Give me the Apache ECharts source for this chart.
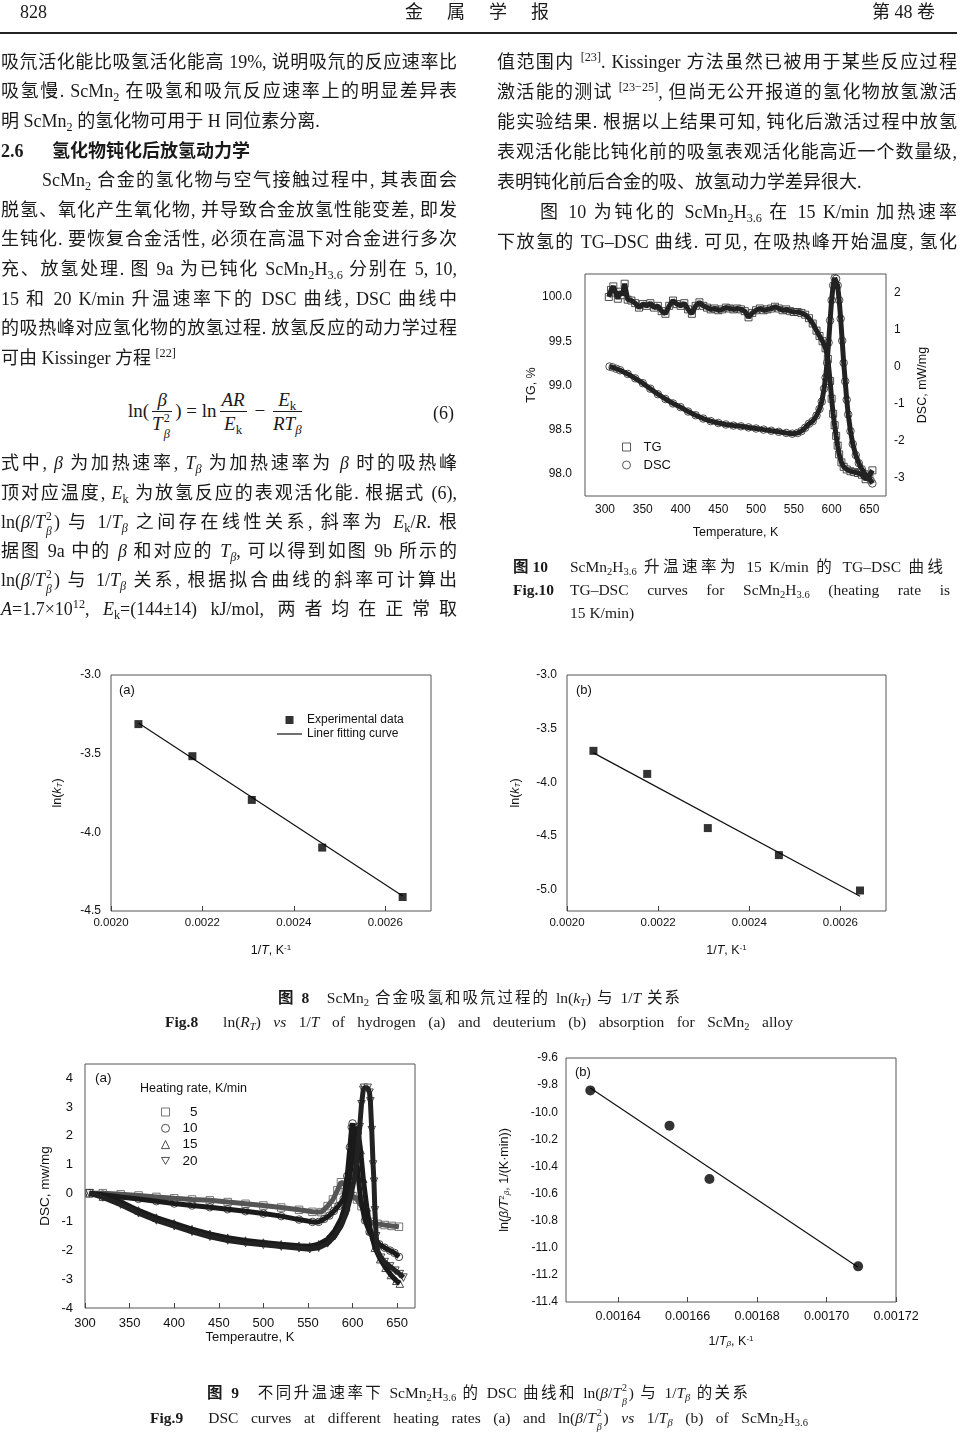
<!DOCTYPE html>
<html><head><meta charset="utf-8">
<script src="https://cdn.jsdelivr.net/npm/echarts@6.0.0/dist/echarts.min.js"></script>
<style>
html,body{margin:0;padding:0;background:#fff;}
#page{position:relative;width:960px;height:1432px;overflow:hidden;font-family:"Liberation Serif","Noto Sans CJK SC",serif;font-size:18px;color:#1a1a1a;}
.ln{position:absolute;height:24px;line-height:24px;white-space:nowrap;transform-origin:left center;}
.ln.j{text-align:justify;text-align-last:justify;white-space:normal;}
.cap{font-size:15.5px;}
sub{font-size:0.68em;vertical-align:-0.3em;line-height:0;}
sup{font-size:0.68em;vertical-align:0.55em;line-height:0;}
.ss{display:inline-block;position:relative;width:0.5em;height:0;}
.ss .a{position:absolute;left:1px;bottom:0.45em;font-size:0.65em;line-height:1;}
.ss .b{position:absolute;left:1px;top:-0.15em;font-size:0.65em;line-height:1;}
b{font-family:"Liberation Serif","Noto Sans CJK SC",serif;font-weight:bold;}
#rule{position:absolute;left:0;top:32px;width:957px;height:1.6px;background:#222;}
#formula{position:absolute;left:128px;top:386px;height:50px;display:flex;align-items:center;font-size:19px;white-space:nowrap;}
.frac{display:inline-flex;flex-direction:column;text-align:center;margin:0 3px;}
.frac .nu{border-bottom:1px solid #1a1a1a;padding:0 2px;line-height:23px;}
.frac .de{line-height:23px;}
#chart{position:absolute;left:0;top:0;width:960px;height:1432px;}
</style></head>
<body><div id="page">
<div id="rule"></div>
<div id="formula"><span>ln(</span><span class="frac"><span class="nu"><i>β</i></span><span class="de"><i>T</i><span class="ss"><span class="a">2</span><span class="b"><i>β</i></span></span></span></span><span>)&nbsp;=&nbsp;ln</span><span class="frac"><span class="nu"><i>AR</i></span><span class="de"><i>E</i><sub>k</sub></span></span><span>&nbsp;−&nbsp;</span><span class="frac"><span class="nu"><i>E</i><sub>k</sub></span><span class="de"><i>RT</i><sub><i>β</i></sub></span></span></div>
<div id="chart"></div>
</div>
<script>
// ---------------- DATA ----------------
// Fig.10 TG-DSC (15 K/min)
const tgT = [305,308,311,314,317,320,323,326,330,335,340,345,350,355,360,365,370,375,380,385,390,395,400,405,410,415,420,425,430,435,440,445,450,455,460,465,470,475,480,485,490,495,500,505,510,515,520,525,530,535,540,545,550,555,560,565,570,575,580,584,588,592,595,598,600,602,604,606,608,610,613,616,620,625,630,635,640,645,650,654];
const tgV = [100.00,100.08,100.12,100.05,99.98,100.06,100.02,100.15,99.97,
  99.96,99.93,99.88,99.92,99.9,99.93,99.88,99.9,99.84,99.81,
  99.9,99.96,99.92,99.9,99.93,99.86,99.81,99.9,99.94,99.9,
  99.88,99.86,99.87,99.85,99.86,99.88,99.87,99.86,99.87,99.86,
  99.84,99.77,99.82,99.85,99.87,99.85,99.86,99.87,99.89,99.87,
  99.85,99.86,99.84,99.83,99.83,99.82,99.8,99.76,99.7,99.62,
  99.56,99.5,99.42,99.3,99.05,98.85,98.68,98.55,98.43,98.32,98.22,98.13,98.08,98.05,98.03,98.02,98.01,97.99,97.94,97.98,98.04];
const dscT = [306,310,315,320,330,340,350,360,370,380,390,400,410,420,430,440,450,460,470,480,490,500,510,520,530,540,548,555,560,565,570,575,580,584,587,590,592,594,596,598,600,602,604,606,608,610,612,614,616,618,620,622,625,628,632,636,640,644,648,652,654];
const dscV = [0.0,-0.02,-0.06,-0.1,-0.2,-0.32,-0.45,-0.6,-0.75,-0.88,-1.0,-1.1,-1.22,-1.32,-1.41,-1.48,-1.53,-1.57,-1.6,-1.62,-1.65,-1.68,-1.71,-1.74,-1.77,-1.8,-1.82,-1.8,-1.75,-1.66,-1.55,-1.48,-1.33,-1.15,-0.95,-0.6,-0.3,0.1,0.65,1.25,1.8,2.2,2.4,2.38,2.2,1.8,1.3,0.7,0.1,-0.4,-0.9,-1.3,-1.75,-2.1,-2.4,-2.62,-2.78,-2.9,-3.0,-3.1,-3.17];
const f10XTicks = [300,350,400,450,500,550,600,650];
const f10TGTicks = [98.0,98.5,99.0,99.5,100.0];
const f10DSCTicks = [-3,-2,-1,0,1,2];

// Fig.8 ln(kT) vs 1/T
const f8X = [0.00206,0.002178,0.002308,0.002462,0.002638];
const f8aY = [-3.312,-3.516,-3.794,-4.097,-4.411];
const f8aFitX = [0.00206,0.002638];
const f8aFitY = [-3.305,-4.405];
const f8bX = [0.002058,0.002176,0.002309,0.002465,0.002643];
const f8bY = [-3.707,-3.922,-4.427,-4.679,-5.009];
const f8bFitX = [0.002058,0.002643];
const f8bFitY = [-3.726,-5.062];
const f8XTicks = [0.0020,0.0022,0.0024,0.0026];
const f8aYTicks = [-4.5,-4.0,-3.5,-3.0];
const f8bYTicks = [-5.0,-4.5,-4.0,-3.5,-3.0];

// Fig.9a DSC curves at different heating rates
const f9aT5 = [305,320,340,360,380,400,420,440,460,480,500,520,540,555,565,572,578,583,587,591,596,600,605,610,615,620,628,636,644,652];
const f9aV5 = [0,0,-0.04,-0.08,-0.13,-0.18,-0.22,-0.25,-0.31,-0.37,-0.43,-0.5,-0.58,-0.65,-0.66,-0.45,-0.22,0.1,0.38,0.3,0.05,-0.1,-0.22,-0.45,-0.75,-1.0,-1.07,-1.11,-1.14,-1.17];
const f9aT10 = [305,320,340,360,380,400,420,440,460,480,500,520,540,555,562,568,574,579,584,590,594,597,599,600,602,605,609,614,619,624,630,636,642,647,652];
const f9aV10 = [0,-0.05,-0.13,-0.2,-0.28,-0.36,-0.43,-0.49,-0.56,-0.63,-0.71,-0.8,-0.92,-1.0,-1.0,-0.9,-0.78,-0.62,-0.45,-0.2,0.6,1.6,2.3,2.43,2.14,1.0,-0.2,-0.95,-1.35,-1.58,-1.78,-1.9,-2.0,-2.08,-2.22];
const f9aT15 = [305,320,340,360,380,400,420,440,460,480,500,520,540,552,562,572,580,587,593,597,601,604,606,609,612,616,620,625,631,637,643,649,653];
const f9aV15 = [0,-0.12,-0.3,-0.6,-0.85,-1.05,-1.25,-1.42,-1.55,-1.65,-1.72,-1.78,-1.83,-1.85,-1.78,-1.6,-1.3,-0.9,-0.3,0.6,1.6,2.3,2.2,1.5,0.5,-0.5,-1.3,-1.9,-2.3,-2.6,-2.85,-3.05,-3.15];
const f9aT20 = [305,320,340,360,380,400,420,440,460,480,500,520,540,552,562,572,580,587,593,598,602,605,608,610,612,613,617,619,620,621.5,623,624,625,626.5,628,632,636,642,648,653,657];
const f9aV20 = [0,-0.15,-0.4,-0.7,-0.95,-1.15,-1.35,-1.52,-1.65,-1.74,-1.8,-1.86,-1.92,-1.95,-1.9,-1.75,-1.5,-1.15,-0.7,-0.1,0.5,1.3,2.3,3.1,3.6,3.67,3.67,3.5,3.2,2.2,1.0,0.4,-0.6,-1.5,-2.0,-2.25,-2.4,-2.55,-2.7,-2.82,-2.94];
const f9aXTicks = [300,350,400,450,500,550,600,650];
const f9aYTicks = [-4,-3,-2,-1,0,1,2,3,4];

// Fig.9b Kissinger plot
const f9bX = [0.001632,0.0016548,0.0016663,0.0017091];
const f9bY = [-9.839,-10.099,-10.493,-11.137];
const f9bFitX = [0.001632,0.001709];
const f9bFitY = [-9.821,-11.142];
const f9bXTicks = [0.00164,0.00166,0.00168,0.00170,0.00172];
const f9bYTicks = [-11.4,-11.2,-11.0,-10.8,-10.6,-10.4,-10.2,-10.0,-9.8,-9.6];

// ---------------- TEXT ----------------
const Tb = '<i>T</i><sub><i>β</i></sub>';
const T2b = '<i>T</i><span class="ss"><span class="a">2</span><span class="b"><i>β</i></span></span>';
const lines = [
 // [left, centerY, width, justify, html, extraClass]
 [20, 12, 0, 0, '828', ''],
 [405, 12, 0, 0, '<span style="letter-spacing:24px">金属学报</span>', ''],
 [872, 12, 0, 0, '第 48 卷', ''],
 [1, 61.7, 456, 1, '吸氘活化能比吸氢活化能高 19%, 说明吸氘的反应速率比', ''],
 [1, 91.3, 456, 1, '吸氢慢. ScMn<sub>2</sub> 在吸氢和吸氘反应速率上的明显差异表', ''],
 [1, 120.9, 0, 0, '明 ScMn<sub>2</sub> 的氢化物可用于 H 同位素分离.', ''],
 [1, 150.5, 0, 0, '<b>2.6</b>', ''],
 [52, 150.5, 0, 0, '<b>氢化物钝化后放氢动力学</b>', ''],
 [42, 180.1, 415, 1, 'ScMn<sub>2</sub> 合金的氢化物与空气接触过程中, 其表面会', ''],
 [1, 209.7, 456, 1, '脱氢、氧化产生氧化物, 并导致合金放氢性能变差, 即发', ''],
 [1, 239.3, 456, 1, '生钝化. 要恢复合金活性, 必须在高温下对合金进行多次', ''],
 [1, 268.9, 456, 1, '充、放氢处理. 图 9a 为已钝化 ScMn<sub>2</sub>H<sub>3.6</sub> 分别在 5, 10,', ''],
 [1, 298.5, 456, 1, '15 和 20 K/min 升温速率下的 DSC 曲线, DSC 曲线中', ''],
 [1, 328.1, 456, 1, '的吸热峰对应氢化物的放氢过程. 放氢反应的动力学过程', ''],
 [1, 357.7, 0, 0, '可由 Kissinger 方程 <sup>[22]</sup>', ''],
 [433, 413, 0, 0, '(6)', ''],
 [1, 463.3, 456, 1, '式中, <i>β</i> 为加热速率, '+Tb+' 为加热速率为 <i>β</i> 时的吸热峰', ''],
 [1, 492.7, 456, 1, '顶对应温度, <i>E</i><sub>k</sub> 为放氢反应的表观活化能. 根据式 (6),', ''],
 [1, 521.7, 456, 1, 'ln(<i>β</i>/'+T2b+') 与 1/'+Tb+' 之间存在线性关系, 斜率为 <i>E</i><sub>k</sub>/<i>R</i>. 根', ''],
 [1, 550.7, 456, 1, '据图 9a 中的 <i>β</i> 和对应的 '+Tb+', 可以得到如图 9b 所示的', ''],
 [1, 580, 456, 1, 'ln(<i>β</i>/'+T2b+') 与 1/'+Tb+' 关系, 根据拟合曲线的斜率可计算出', ''],
 [1, 609.3, 456, 1, '<i>A</i>=1.7×10<sup>12</sup>, <i>E</i><sub>k</sub>=(144±14) kJ/mol, 两者均在正常取', ''],
 [497, 61.7, 460, 1, '值范围内 <sup>[23]</sup>. Kissinger 方法虽然已被用于某些反应过程', ''],
 [497, 91.7, 460, 1, '激活能的测试 <sup>[23−25]</sup>, 但尚无公开报道的氢化物放氢激活', ''],
 [497, 121.7, 460, 1, '能实验结果. 根据以上结果可知, 钝化后激活过程中放氢', ''],
 [497, 151.7, 460, 1, '表观活化能比钝化前的吸氢表观活化能高近一个数量级,', ''],
 [497, 181.7, 0, 0, '表明钝化前后合金的吸、放氢动力学差异很大.', ''],
 [540, 211.7, 417, 1, '图 10 为钝化的 ScMn<sub>2</sub>H<sub>3.6</sub> 在 15 K/min 加热速率', ''],
 [497, 241.7, 460, 1, '下放氢的 TG–DSC 曲线. 可见, 在吸热峰开始温度, 氢化', ''],
 [513, 566.7, 0, 0, '<b>图 10</b>', 'cap'],
 [570, 566.7, 373, 1, 'ScMn<sub>2</sub>H<sub>3.6</sub> 升温速率为 15 K/min 的 TG–DSC 曲线', 'cap'],
 [513, 590, 0, 0, '<b>Fig.10</b>', 'cap'],
 [570, 590, 380, 1, 'TG–DSC curves for ScMn<sub>2</sub>H<sub>3.6</sub> (heating rate is', 'cap'],
 [570, 613.3, 0, 0, '15 K/min)', 'cap'],
 [278, 998, 402, 1, '<b>图 8</b>&nbsp;&nbsp; ScMn<sub>2</sub> 合金吸氢和吸氘过程的 ln(<i>k</i><sub><i>T</i></sub>) 与 1/<i>T</i> 关系', 'cap'],
 [165, 1022, 628, 1, '<b>Fig.8</b>&nbsp; ln(<i>R</i><sub><i>T</i></sub>) <i>vs</i> 1/<i>T</i> of hydrogen (a) and deuterium (b) absorption for ScMn<sub>2</sub> alloy', 'cap'],
 [207, 1393, 541, 1, '<b>图 9</b>&nbsp;&nbsp; 不同升温速率下 ScMn<sub>2</sub>H<sub>3.6</sub> 的 DSC 曲线和 ln(<i>β</i>/'+T2b+') 与 1/'+Tb+' 的关系', 'cap'],
 [150, 1418, 658, 1, '<b>Fig.9</b>&nbsp; DSC curves at different heating rates (a) and ln(<i>β</i>/'+T2b+') <i>vs</i> 1/'+Tb+' (b) of ScMn<sub>2</sub>H<sub>3.6</sub>', 'cap']
];
const page = document.getElementById('page');
lines.forEach(([x, cy, w, j, html, cls]) => {
  const d = document.createElement('div');
  d.className = 'ln' + (cls ? ' ' + cls : '');
  d.style.left = x + 'px';
  d.style.top = (cy - 12) + 'px';
  d.innerHTML = html;
  page.appendChild(d);
  if (w) {
    const nat = d.scrollWidth;
    if (nat > w) {
      d.style.transform = 'scaleX(' + (w / nat) + ')';
    } else if (j) {
      d.style.width = w + 'px';
      d.classList.add('j');
    }
  }
});

// ---------------- CHART ----------------
const F = '"Liberation Sans", Arial, sans-serif';
const pairs = (xs, ys) => xs.map((x, i) => [x, ys[i]]);
const rich = {
  n: {fontFamily: F, fontSize: 12.5, color: '#111'},
  i: {fontFamily: F, fontSize: 12.5, fontStyle: 'italic', color: '#111'},
  s: {fontFamily: F, fontSize: 8, fontStyle: 'italic', color: '#111', verticalAlign: 'bottom', lineHeight: 8},
  p: {fontFamily: F, fontSize: 8, color: '#111', verticalAlign: 'top', lineHeight: 8}
};
function ax(o) {
  return {
    type: 'value', gridIndex: o.g, min: o.min, max: o.max, position: o.pos,
    axisLine: {show: false, onZero: false}, splitLine: {show: false},
    axisTick: {show: !!o.tick, inside: true, length: 5, customValues: o.ticks, lineStyle: {color: '#444'}},
    axisLabel: {customValues: o.ticks, formatter: o.fmt, margin: o.margin, fontSize: o.fs || 12,
      color: '#111', fontFamily: F, showMinLabel: true, showMaxLabel: true},
    name: o.name, nameLocation: 'middle', nameGap: o.gap, nameRotate: o.rot || 0,
    nameTextStyle: {fontFamily: F, fontSize: o.nfs || 12.5, color: '#111', rich: rich}
  };
}
const gridBase = {show: true, borderColor: '#555', borderWidth: 1, backgroundColor: 'transparent', containLabel: false};
const hollow = (c) => ({color: '#fff', borderColor: c, borderWidth: 1});
const downTri = 'path://M0,0 L10,0 L5,8.66 Z';

const option = {
  animation: false,
  backgroundColor: 'transparent',
  textStyle: {fontFamily: F},
  grid: [
    Object.assign({left: 585, top: 274, width: 301, height: 222}, gridBase),
    Object.assign({left: 111, top: 675, width: 320, height: 236}, gridBase),
    Object.assign({left: 567, top: 675, width: 319, height: 236}, gridBase),
    Object.assign({left: 85, top: 1064, width: 330, height: 244}, gridBase),
    Object.assign({left: 566, top: 1058, width: 330, height: 244}, gridBase)
  ],
  xAxis: [
    ax({g: 0, min: 273.5, max: 672, pos: 'bottom', ticks: f10XTicks, fmt: v => String(v), margin: 8, fs: 12, name: 'Temperature, K', gap: 30, nfs: 12.5}),
    ax({g: 1, min: 0.0020, max: 0.0027, pos: 'bottom', ticks: f8XTicks, fmt: v => v.toFixed(4), margin: 6, fs: 11.5, tick: true,
        name: '{n|1/}{i|T}{n|, K}{p|-1}', gap: 33}),
    ax({g: 2, min: 0.0020, max: 0.0027, pos: 'bottom', ticks: f8XTicks, fmt: v => v.toFixed(4), margin: 6, fs: 11.5, tick: true,
        name: '{n|1/}{i|T}{n|, K}{p|-1}', gap: 33}),
    ax({g: 3, min: 300, max: 670, pos: 'bottom', ticks: f9aXTicks, fmt: v => String(v), margin: 9, fs: 13, tick: true,
        name: 'Temperautre, K', gap: 23, nfs: 13}),
    ax({g: 4, min: 0.001625, max: 0.00172, pos: 'bottom', ticks: f9bXTicks, fmt: v => v.toFixed(5), margin: 8, fs: 12.5, tick: true,
        name: '{n|1/}{i|T}{s|β}{n|, K}{p|-1}', gap: 33})
  ],
  yAxis: [
    ax({g: 0, min: 97.75, max: 100.26, pos: 'left', ticks: f10TGTicks, fmt: v => v.toFixed(1), margin: 13, fs: 12, name: 'TG, %', gap: 45, rot: 90}),
    ax({g: 0, min: -3.51, max: 2.51, pos: 'right', ticks: f10DSCTicks, fmt: v => String(v), margin: 8, fs: 12, name: 'DSC, mW/mg', gap: 30, rot: 90}),
    ax({g: 1, min: -4.5, max: -3.0, pos: 'left', ticks: f8aYTicks, fmt: v => v.toFixed(1), margin: 10, fs: 12, name: '{n|ln(}{i|k}{s|T}{n|)}', gap: 47, rot: 90}),
    ax({g: 2, min: -5.2, max: -3.0, pos: 'left', ticks: f8bYTicks, fmt: v => v.toFixed(1), margin: 10, fs: 12, name: '{n|ln(}{i|k}{s|T}{n|)}', gap: 45, rot: 90}),
    ax({g: 3, min: -4, max: 4.5, pos: 'left', ticks: f9aYTicks, fmt: v => String(v), margin: 12, fs: 13, name: 'DSC, mw/mg', gap: 33, rot: 90, nfs: 13.5}),
    ax({g: 4, min: -11.4, max: -9.6, pos: 'left', ticks: f9bYTicks, fmt: v => v.toFixed(1), margin: 8, fs: 12, name: '{n|ln(}{i|β/T}{p|2}{s|β}{n|, 1/(K·min))}', gap: 55, rot: 90})
  ],
  legend: [
    {left: 617, top: 435, orient: 'vertical', itemWidth: 8, itemHeight: 8, itemGap: 4,
     textStyle: {fontFamily: F, fontSize: 13, color: '#111', padding: [0, 0, 0, 8], lineHeight: 14},
     data: [{name: 'TG', icon: 'rect', itemStyle: hollow('#333')}, {name: 'DSC', icon: 'circle', itemStyle: hollow('#333')}]},
    {left: 272, top: 708, orient: 'vertical', itemWidth: 25, itemHeight: 8, itemGap: 0,
     textStyle: {fontFamily: F, fontSize: 12, color: '#111', lineHeight: 14},
     data: [
       {name: 'Experimental data', icon: 'path://M0,0 M25,8 M8.5,0 L16.5,0 L16.5,8 L8.5,8 Z', itemStyle: {color: '#000'}},
       {name: 'Liner fitting curve', icon: 'path://M0,0 M25,8 M0,3.4 L25,3.4 L25,4.6 L0,4.6 Z', itemStyle: {color: '#111'}}
     ]},
    {left: 156, top: 1100, orient: 'vertical', itemWidth: 8, itemHeight: 8, itemGap: 2.3,
     formatter: n => (n.length === 1 ? '\u2007' + n : n),
     textStyle: {fontFamily: F, fontSize: 13.5, color: '#111', padding: [0, 0, 0, 8], lineHeight: 14},
     data: [{name: '5', icon: 'rect', itemStyle: hollow('#555')}, {name: '10', icon: 'circle', itemStyle: hollow('#222')},
            {name: '15', icon: 'triangle', itemStyle: hollow('#222')}, {name: '20', icon: downTri, itemStyle: hollow('#222')}]}
  ],
  graphic: [
    {type: 'text', left: 119, top: 684, style: {text: '(a)', font: '13px ' + F, fill: '#111'}},
    {type: 'text', left: 576, top: 684, style: {text: '(b)', font: '13px ' + F, fill: '#111'}},
    {type: 'text', left: 95, top: 1071, style: {text: '(a)', font: '13.5px ' + F, fill: '#111'}},
    {type: 'text', left: 575, top: 1066, style: {text: '(b)', font: '13px ' + F, fill: '#111'}},
    {type: 'text', left: 140, top: 1082, style: {text: 'Heating rate, K/min', font: '12.5px ' + F, fill: '#111'}}
  ],
  series: []
};

function band(name, xi, yi, xs, ys, symbol, size, col, lw) {
  option.series.push({
    name: name, type: 'scatter', xAxisIndex: xi, yAxisIndex: yi, z: 2, silent: true,
    symbol: symbol, symbolSize: size,
    itemStyle: hollow(col), data: pairs(xs, ys)
  });
  option.series.push({
    name: name + '_line', type: 'line', xAxisIndex: xi, yAxisIndex: yi, z: 3, silent: true,
    symbol: 'none', lineStyle: {color: col, width: lw}, data: pairs(xs, ys)
  });
}
// Fig.10
band('TG', 0, 0, tgT, tgV, 'rect', 7, '#222', 5);
band('DSC', 0, 1, dscT, dscV, 'circle', 7.5, '#222', 5);
// Fig.9a
band('5', 3, 4, f9aT5, f9aV5, 'rect', 7.5, '#555', 5);
band('10', 3, 4, f9aT10, f9aV10, 'circle', 7.5, '#1a1a1a', 5);
band('15', 3, 4, f9aT15, f9aV15, 'triangle', 7.5, '#1a1a1a', 5);
band('20', 3, 4, f9aT20, f9aV20, downTri, 7.5, '#222', 5);
// Fig.8 and Fig.9b
option.series.push(
  {name: 'Liner fitting curve', type: 'line', xAxisIndex: 1, yAxisIndex: 2, symbol: 'none', z: 2, silent: true,
   lineStyle: {color: '#111', width: 1.2}, data: pairs(f8aFitX, f8aFitY)},
  {name: 'Experimental data', type: 'scatter', xAxisIndex: 1, yAxisIndex: 2, symbol: 'rect', symbolSize: 8, z: 3, silent: true,
   itemStyle: {color: '#000'}, data: pairs(f8X, f8aY)},
  {name: 'fit b', type: 'line', xAxisIndex: 2, yAxisIndex: 3, symbol: 'none', z: 2, silent: true,
   lineStyle: {color: '#111', width: 1.2}, data: pairs(f8bFitX, f8bFitY)},
  {name: 'exp b', type: 'scatter', xAxisIndex: 2, yAxisIndex: 3, symbol: 'rect', symbolSize: 8, z: 3, silent: true,
   itemStyle: {color: '#000'}, data: pairs(f8bX, f8bY)},
  {name: 'fit 9b', type: 'line', xAxisIndex: 4, yAxisIndex: 5, symbol: 'none', z: 2, silent: true,
   lineStyle: {color: '#111', width: 1.2}, data: pairs(f9bFitX, f9bFitY)},
  {name: 'exp 9b', type: 'scatter', xAxisIndex: 4, yAxisIndex: 5, symbol: 'circle', symbolSize: 10, z: 3, silent: true,
   itemStyle: {color: '#000'}, data: pairs(f9bX, f9bY)}
);

const chart = echarts.init(document.getElementById('chart'), null, {renderer: 'canvas'});
chart.setOption(option);
</script>
</body></html>
